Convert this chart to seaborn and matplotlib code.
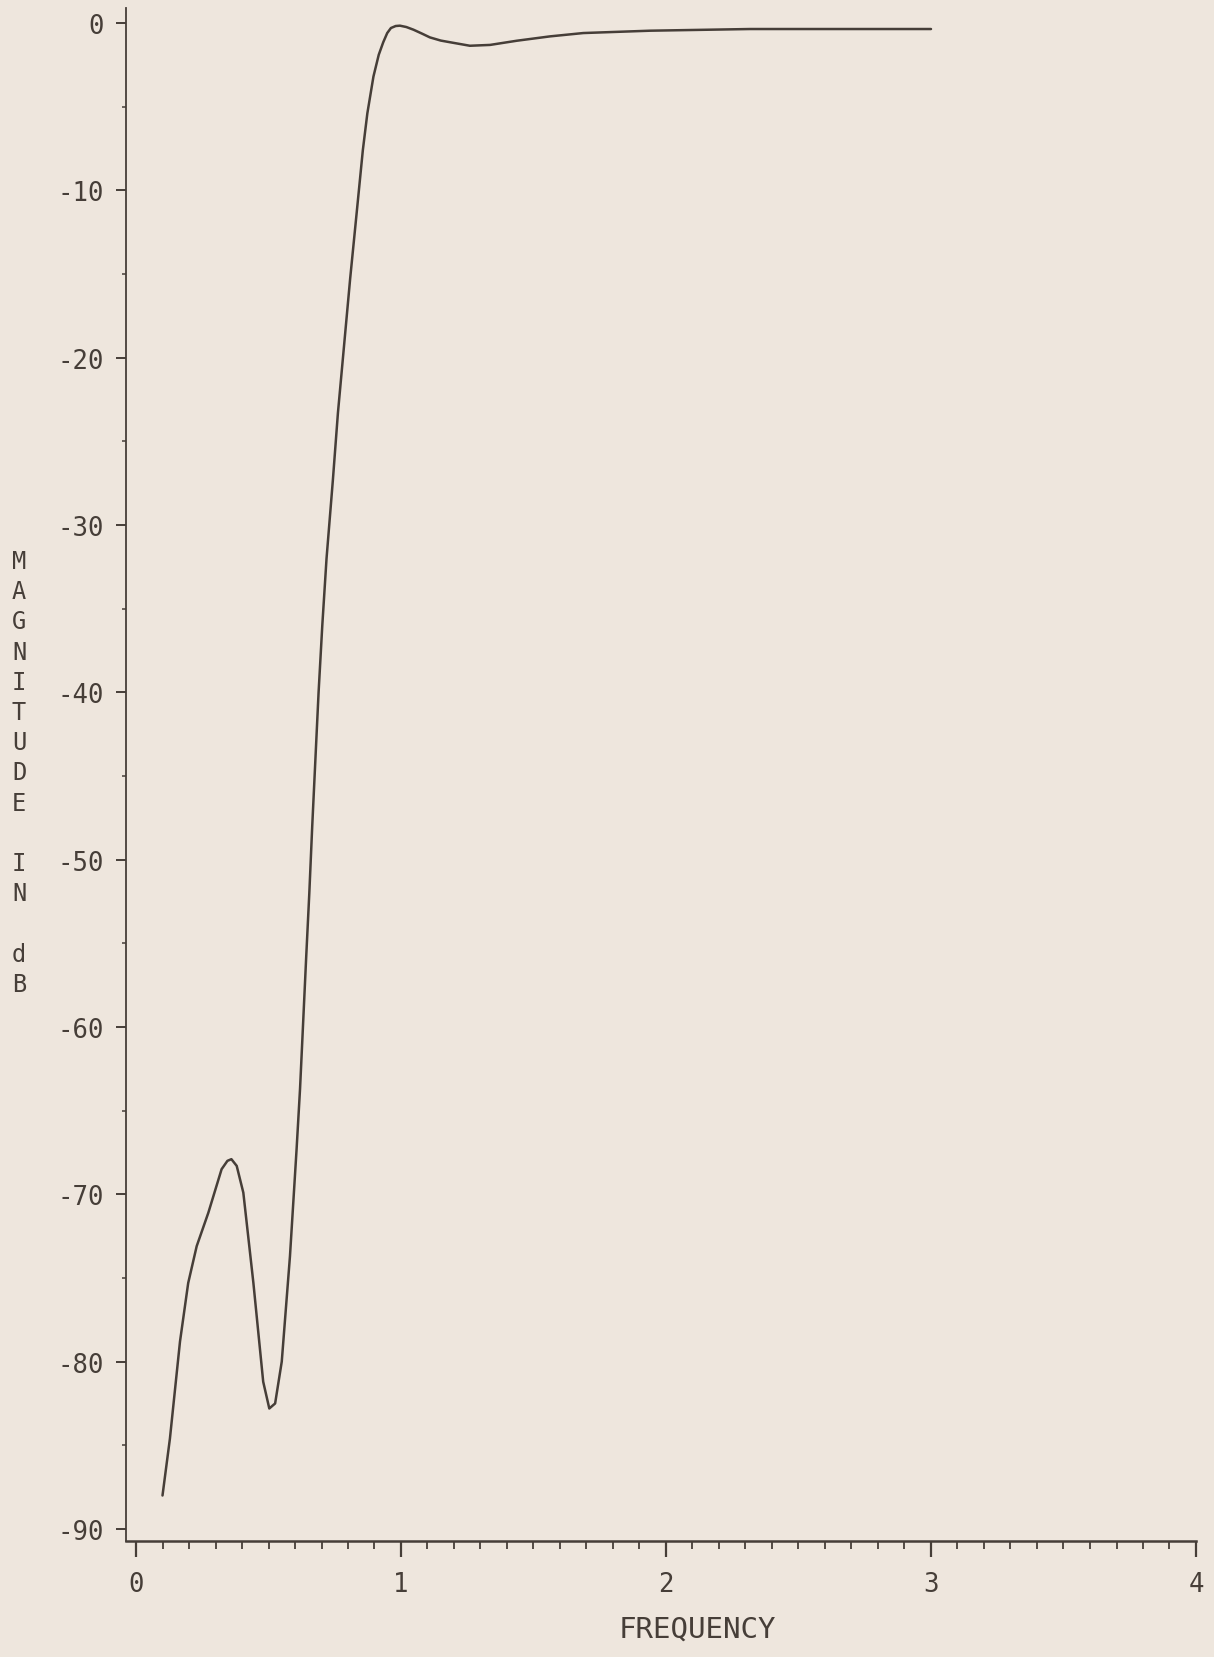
import numpy as np
import pandas as pd
import matplotlib
matplotlib.use("Agg")
import matplotlib.pyplot as plt
from matplotlib.ticker import MultipleLocator, FixedLocator
import seaborn as sns

# Magnitude response of the filter (frequency, dB)
frequency = [0.100, 0.128, 0.166, 0.197, 0.229, 0.273, 0.323, 0.345, 0.360,
             0.380, 0.405, 0.443, 0.480, 0.503, 0.525, 0.550, 0.581, 0.606,
             0.619, 0.627, 0.642, 0.654, 0.665, 0.677, 0.689, 0.703, 0.719,
             0.743, 0.762, 0.785, 0.808, 0.833, 0.856, 0.873, 0.896, 0.916,
             0.933, 0.948, 0.962, 0.980, 0.996, 1.020, 1.047, 1.080, 1.109,
             1.150, 1.185, 1.260, 1.336, 1.437, 1.562, 1.688, 1.940, 2.317,
             3.000]
magnitude = [-88.0, -84.6, -78.8, -75.3, -73.1, -71.1, -68.5, -68.0, -67.9,
             -68.3, -69.9, -75.3, -81.2, -82.8, -82.5, -80.0, -73.7, -67.3,
             -63.7, -61.0, -55.9, -52.0, -48.0, -44.0, -40.0, -36.0, -32.0,
             -27.3, -23.3, -19.3, -15.3, -11.3, -7.6, -5.4, -3.2, -1.9,
             -1.15, -0.6, -0.3, -0.18, -0.16, -0.24, -0.40, -0.64, -0.86,
             -1.05, -1.15, -1.36, -1.31, -1.06, -0.80, -0.60, -0.46, -0.36,
             -0.36]

x_ticks = [0, 1, 2, 3, 4]
x_tick_labels = ["0", "1", "2", "3", "4"]
y_ticks = [0, -10, -20, -30, -40, -50, -60, -70, -80, -90]
y_tick_labels = ["0", "-10", "-20", "-30", "-40", "-50", "-60", "-70", "-80", "-90"]
y_label_chars = ["M", "A", "G", "N", "I", "T", "U", "D", "E", "", "I", "N", "", "d", "B"]

paper = "#eee6dd"
ink = "#463e38"

sns.set_theme(style="ticks")
plt.rcParams["font.family"] = ["DejaVu Sans Mono", "DejaVu Sans"]

W, H = 1214, 1658
fig = plt.figure(figsize=(W / 100, H / 100), dpi=100, facecolor=paper)
ax = fig.add_axes([126 / W, (H - 1542) / H, (1196 - 126) / W, (1542 - 9) / H])
ax.set_facecolor(paper)

df = pd.DataFrame({"frequency": frequency, "magnitude": magnitude})
sns.lineplot(data=df, x="frequency", y="magnitude", ax=ax, color=ink,
             linewidth=1.8, sort=False, estimator=None)

ax.set_xlim(-10 / 265, 4)
ax.set_ylim((24 - 1542) / 16.733, (24 - 9) / 16.733)

for side in ("top", "right"):
    ax.spines[side].set_visible(False)
ax.spines["left"].set_color(ink)
ax.spines["left"].set_linewidth(1.3)
ax.spines["bottom"].set_color(ink)
ax.spines["bottom"].set_linewidth(1.8)

ax.xaxis.set_major_locator(FixedLocator(x_ticks))
ax.set_xticklabels(x_tick_labels)
ax.xaxis.set_minor_locator(MultipleLocator(0.1))
ax.yaxis.set_major_locator(FixedLocator(y_ticks))
ax.set_yticklabels(y_tick_labels)
ax.yaxis.set_minor_locator(MultipleLocator(5))

ax.tick_params(axis="x", which="major", direction="out", length=11.5, width=1.6,
               color=ink, labelcolor=ink, labelsize=18.5, pad=10)
ax.tick_params(axis="x", which="minor", direction="out", length=5.5, width=1.3,
               color=ink)
ax.tick_params(axis="y", which="major", direction="out", length=7, width=1.4,
               color=ink, labelcolor=ink, labelsize=18.5, pad=9)
ax.tick_params(axis="y", which="minor", direction="out", length=3, width=1.1,
               color=ink)

ax.set_xlabel("")
ax.set_ylabel("")

fig.text(697 / W, 1 - 1630 / H, "FREQUENCY", ha="center", va="center",
         fontsize=21, color=ink)

# Vertical stacked axis title
top_c, step = 562, (985 - 562) / (len(y_label_chars) - 1)
for i, ch in enumerate(y_label_chars):
    if ch:
        fig.text(19 / W, 1 - (top_c + i * step) / H, ch, ha="center",
                 va="center", fontsize=17, color=ink)

fig.savefig("out.png", dpi=100, facecolor=paper)
